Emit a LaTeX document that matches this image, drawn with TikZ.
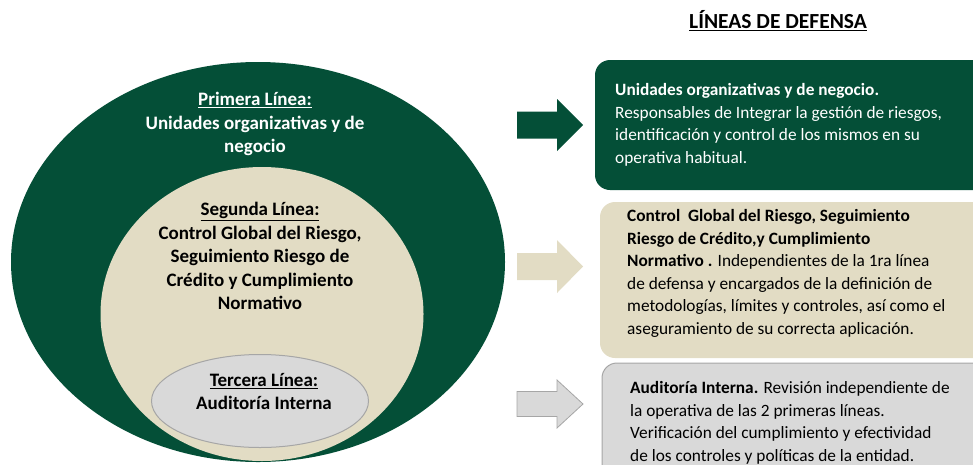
\documentclass[tikz,border=0pt]{standalone}
\usepackage{fontspec}
\setmainfont{Carlito}
\usetikzlibrary{shapes.geometric}
\definecolor{dgreen}{HTML}{044F37}
\definecolor{beige}{HTML}{E2DCC4}
\definecolor{lgray}{HTML}{D9D9D9}
\definecolor{gborder}{HTML}{A6A6A6}
\begin{document}
\begin{tikzpicture}[x=1pt,y=-1pt,
  oval/.style={ellipse,inner sep=0pt,outer sep=0pt},
  ovaltext/.style={align=center,inner sep=0pt,font=\fontsize{19}{23.5}\selectfont\bfseries},
  box/.style={rectangle,rounded corners=15pt,inner sep=0pt,outer sep=0pt},
  boxtext/.style={align=left,anchor=west,inner sep=0pt,font=\fontsize{17.3}{22.5}\selectfont},
  bigarrow/.style={line join=miter}
]
\useasboundingbox (0,0) rectangle (973,464);

% title
\node[inner sep=0pt,font=\fontsize{21.5}{24}\selectfont\bfseries] (title) at (778,21) {\underline{LÍNEAS DE DEFENSA}};

% nested ellipses
\node[oval,fill=dgreen,minimum width=494pt,minimum height=400pt] (outer) at (258,262) {};
\node[oval,fill=beige,minimum width=323pt,minimum height=294pt] (middle) at (262,314) {};
\node[oval,fill=lgray,draw=gborder,line width=1pt,minimum width=217pt,minimum height=93pt] (inner) at (260,401) {};

\node[ovaltext,text=white] (t1) at (255,124) {\underline{Primera Línea:}\\Unidades\ organizativas\ y de\\negocio};
\node[ovaltext,text=black] (t2) at (260,256) {\underline{Segunda Línea:}\\Control Global\ del Riesgo,\\Seguimiento Riesgo de\\Crédito y Cumplimiento\\Normativo};
\node[ovaltext,text=black] (t3) at (264,391.5) {\underline{Tercera Línea:}\\Auditoría Interna};

% arrows
\path[bigarrow,fill=dgreen] (517,111.5) -- (557,111.5) -- (557,99) -- (583,125) -- (557,151) -- (557,138.5) -- (517,138.5) -- cycle;
\path[bigarrow,fill=beige] (517,253) -- (557,253) -- (557,240) -- (583,266.5) -- (557,293) -- (557,280) -- (517,280) -- cycle;
\path[bigarrow,fill=lgray,draw=gborder,line width=0.8pt] (517,391.5) -- (557,391.5) -- (557,380) -- (583,404) -- (557,428) -- (557,416.5) -- (517,416.5) -- cycle;

% boxes
\node[box,fill=dgreen,minimum width=405pt,minimum height=130pt] (b1) at (797.5,125) {};
\node[box,fill=beige,minimum width=400pt,minimum height=156pt] (b2) at (800,280) {};
\node[box,fill=lgray,draw=gborder,line width=1pt,minimum width=398pt,minimum height=117pt] (b3) at (801,421.5) {};

\node[boxtext,text=white] (bt1) at (615,125) {\textbf{Unidades\ organizativas y de negocio.}\\Responsables de Integrar la gestión de riesgos,\\identificación y control de los mismos en su\\operativa habitual.};
\node[boxtext,text=black] (bt2) at (627,273.5) {\textbf{Control\ \ Global del Riesgo, Seguimiento}\\\textbf{Riesgo de\ Crédito,y\ Cumplimiento}\\\textbf{Normativo .} Independientes de la 1ra línea\\de defensa y encargados de la definición de\\metodologías, límites y controles, así como el\\aseguramiento de su correcta aplicación.};
\node[boxtext,text=black] (bt3) at (630,423) {\textbf{Auditoría\ Interna.} Revisión independiente de\\la operativa de las 2 primeras líneas.\\Verificación del cumplimiento y efectividad\\de los controles y políticas de la entidad.};
\end{tikzpicture}
\end{document}
